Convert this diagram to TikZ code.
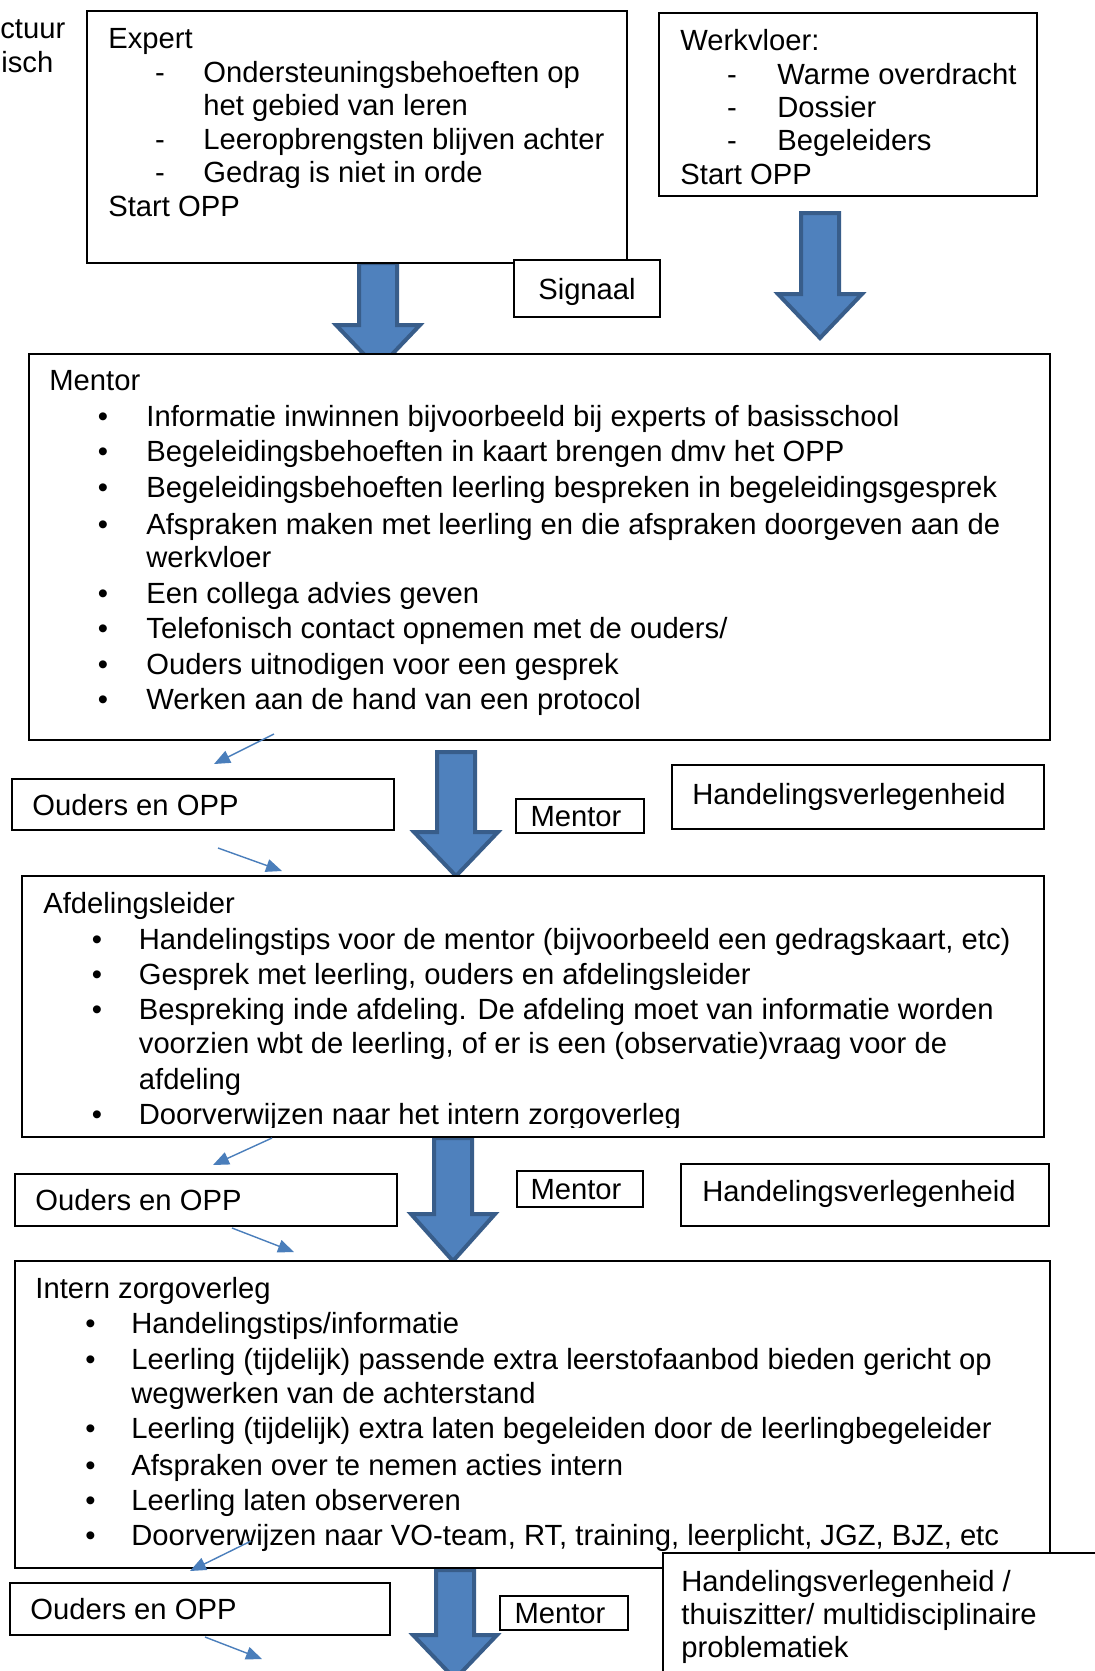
\documentclass[tikz,border=0pt]{standalone}
\usepackage{fontspec}
\setmainfont{Liberation Sans}
\usetikzlibrary{fit,arrows.meta}
\definecolor{arrfill}{HTML}{4F81BD}
\definecolor{arrline}{HTML}{385D8A}
\definecolor{thinblue}{HTML}{4A7EBB}
\newcommand\fs{\fontsize{14.6}{17}\selectfont}
\newcommand\blockarrow[4]{%
  \draw[blockarr] (#1-19,#2) -- (#1+19,#2) -- (#1+19,#3) -- (#1+42,#3) -- (#1,#4) -- (#1-42,#3) -- (#1-19,#3) -- cycle;}
\begin{document}
\begin{tikzpicture}[x=0.5pt,y=-0.5pt,
  box/.style={draw=black, line width=1pt, fill=white, inner sep=0pt, rectangle},
  txt/.style={anchor=base west, inner sep=0pt, font=\fs},
  ctxt/.style={anchor=center, inner sep=0pt, font=\fs},
  blt/.style={anchor=base, inner sep=0pt, font=\fs},
  blockarr/.style={fill=arrfill, draw=arrline, line width=2pt, line join=miter},
  thinarr/.style={draw=thinblue, line width=0.7pt, -{Triangle[length=8pt,width=6.5pt]}}]
\useasboundingbox (0,0) rectangle (1095,1671);
\clip (0,0) rectangle (1095,1671);
\fill[white] (0,0) rectangle (1095,1671);

% block arrows
\blockarrow{378}{263}{325}{369}
\blockarrow{820}{213}{294}{338}
\blockarrow{456}{752}{832}{876}
\blockarrow{453}{1138}{1214}{1261}
\blockarrow{455}{1570}{1635}{1679}

% boxes
\node[box, fit={(87,11) (627,263)}] (expert) {};
\node[box, fit={(659,13) (1037,196)}] (werk) {};
\node[box, fit={(514,260) (660,317)}] (signaal) {};
\node[box, fit={(29,354) (1050,740)}] (mentor) {};
\node[box, fit={(12,779) (394,830)}] (ouders1) {};
\node[box, fit={(516,799) (644,833)}] (mentorA) {};
\node[box, fit={(672,765) (1044,829)}] (hand1) {};
\node[box, fit={(22,876) (1044,1137)}] (afd) {};
\node[box, fit={(15,1174) (397,1226)}] (ouders2) {};
\node[box, fit={(517,1171) (643,1207)}] (mentorB) {};
\node[box, fit={(681,1164) (1049,1226)}] (hand2) {};
\node[box, fit={(15,1261) (1050,1568)}] (intern) {};
\node[box, fit={(10,1583) (390,1635)}] (ouders3) {};
\node[box, fit={(500,1596) (628,1630)}] (mentorC) {};

% centred labels of small boxes
\node[ctxt] (signaalT) at ([yshift=-1.5pt]signaal.center) {Signaal};
\node[ctxt] (mentorAT) at ([xshift=-2pt,yshift=-0.5pt]mentorA.center) {Mentor};
\node[ctxt] (mentorBT) at ([xshift=-2pt,yshift=-0.5pt]mentorB.center) {Mentor};
\node[ctxt] (mentorCT) at ([xshift=-2pt,yshift=-0.5pt]mentorC.center) {Mentor};

% cut-off text at top left
\node[txt] (cut1) at (0,38) {ctuur};
\node[txt] (cut2) at (1,72) {isch};

% Expert
\node[txt] (e0) at (108,48) {Expert};
\node[blt] (ed1) at (160,82) {-};
\node[txt] (e1) at (203,82) {Ondersteuningsbehoeften op};
\node[txt] (e1b) at (203,115) {het gebied van leren};
\node[blt] (ed2) at (160,149) {-};
\node[txt] (e2) at (203,149) {Leeropbrengsten blijven achter};
\node[blt] (ed3) at (160,182) {-};
\node[txt] (e3) at (203,182) {Gedrag is niet in orde};
\node[txt] (e4) at (108,216) {Start OPP};

% Werkvloer
\node[txt] (w0) at (680,50) {Werkvloer:};
\node[blt] (wd1) at (732,84) {-};
\node[txt] (w1) at (777,84) {Warme overdracht};
\node[blt] (wd2) at (732,117) {-};
\node[txt] (w2) at (777,117) {Dossier};
\node[blt] (wd3) at (732,150) {-};
\node[txt] (w3) at (777,150) {Begeleiders};
\node[txt] (w4) at (680,184) {Start OPP};

% Mentor
\node[txt] (m0) at (49,390) {Mentor};
\foreach \y [count=\i] in {426.5,461.6,497.9,534.1,603.3,638.5,674.7,709.8}
  \node[blt] (mb\i) at (103,\y) {\textbullet};
\node[txt] (m1) at (146,426.5) {Informatie inwinnen bijvoorbeeld bij experts of basisschool};
\node[txt] (m2) at (146,461.6) {Begeleidingsbehoeften in kaart brengen dmv het OPP};
\node[txt] (m3) at (146,497.9) {Begeleidingsbehoeften leerling bespreken in begeleidingsgesprek};
\node[txt] (m4) at (146,534.1) {Afspraken maken met leerling en die afspraken doorgeven aan de};
\node[txt] (m4b) at (146,567.1) {werkvloer};
\node[txt] (m5) at (146,603.3) {Een collega advies geven};
\node[txt] (m6) at (146,638.5) {Telefonisch contact opnemen met de ouders/};
\node[txt] (m7) at (146,674.7) {Ouders uitnodigen voor een gesprek};
\node[txt] (m8) at (146,709.8) {Werken aan de hand van een protocol};

% row 1 small boxes
\node[txt] (o1) at (32,815) {Ouders en OPP};
\node[txt] (h1) at (692,804) {Handelingsverlegenheid};

% Afdelingsleider
\node[txt] (a0) at (43,913) {Afdelingsleider};
\foreach \y [count=\i] in {949.5,984.7,1019.8,1124.2}
  \node[blt] (ab\i) at (97,\y) {\textbullet};
\node[txt] (a1) at (138.5,949.5) {Handelingstips voor de mentor (bijvoorbeeld een gedragskaart, etc)};
\node[txt] (a2) at (138.5,984.7) {Gesprek met leerling, ouders en afdelingsleider};
\node[txt] (a3) at (138.5,1019.8) {Bespreking inde afdeling. De afdeling moet van informatie worden};
\node[txt] (a3b) at (138.5,1053.9) {voorzien wbt de leerling, of er is een (observatie)vraag voor de};
\node[txt] (a3c) at (138.5,1089) {afdeling};
\begin{scope}
\clip (0,1090) rectangle (1044,1127);
\node[txt] (a4) at (138.5,1124.2) {Doorverwijzen naar het intern zorgoverleg};
\end{scope}

% row 2 small boxes
\node[txt] (o2) at (35,1210) {Ouders en OPP};
\node[txt] (h2) at (702,1201) {Handelingsverlegenheid};

% Intern zorgoverleg
\node[txt] (i0) at (35,1298) {Intern zorgoverleg};
\foreach \y [count=\i] in {1333,1369,1438,1475,1510,1545}
  \node[blt] (ib\i) at (90.5,\y) {\textbullet};
\node[txt] (i1) at (131,1333) {Handelingstips/informatie};
\node[txt] (i2) at (131,1369) {Leerling (tijdelijk) passende extra leerstofaanbod bieden gericht op};
\node[txt] (i2b) at (131,1403) {wegwerken van de achterstand};
\node[txt] (i3) at (131,1438) {Leerling (tijdelijk) extra laten begeleiden door de leerlingbegeleider};
\node[txt] (i4) at (131,1475) {Afspraken over te nemen acties intern};
\node[txt] (i5) at (131,1510) {Leerling laten observeren};
\node[txt] (i6) at (131,1545) {Doorverwijzen naar VO-team, RT, training, leerplicht, JGZ, BJZ, etc};

% last box, drawn over the corner of the intern box
\node[box, fit={(663,1553) (1120,1700)}] (hand3) {};

% row 3 small boxes
\node[txt] (o3) at (30,1619) {Ouders en OPP};
\node[txt] (h3a) at (681,1591) {Handelingsverlegenheid /};
\node[txt] (h3b) at (681,1624) {thuiszitter/ multidisciplinaire};
\node[txt] (h3c) at (681,1657) {problematiek};

% thin arrows
\coordinate (t1s) at (274,734);  \coordinate (t1e) at (214,764);
\coordinate (t2s) at (218,848);  \coordinate (t2e) at (282,871);
\coordinate (t3s) at (272,1138); \coordinate (t3e) at (213,1165);
\coordinate (t4s) at (232,1228); \coordinate (t4e) at (294,1252);
\coordinate (t5s) at (251,1541); \coordinate (t5e) at (190,1571);
\coordinate (t6s) at (205,1637); \coordinate (t6e) at (262,1659);
\draw[thinarr] (t1s) -- (t1e);
\draw[thinarr] (t2s) -- (t2e);
\draw[thinarr] (t3s) -- (t3e);
\draw[thinarr] (t4s) -- (t4e);
\draw[thinarr] (t5s) -- (t5e);
\draw[thinarr] (t6s) -- (t6e);
\end{tikzpicture}
\end{document}
